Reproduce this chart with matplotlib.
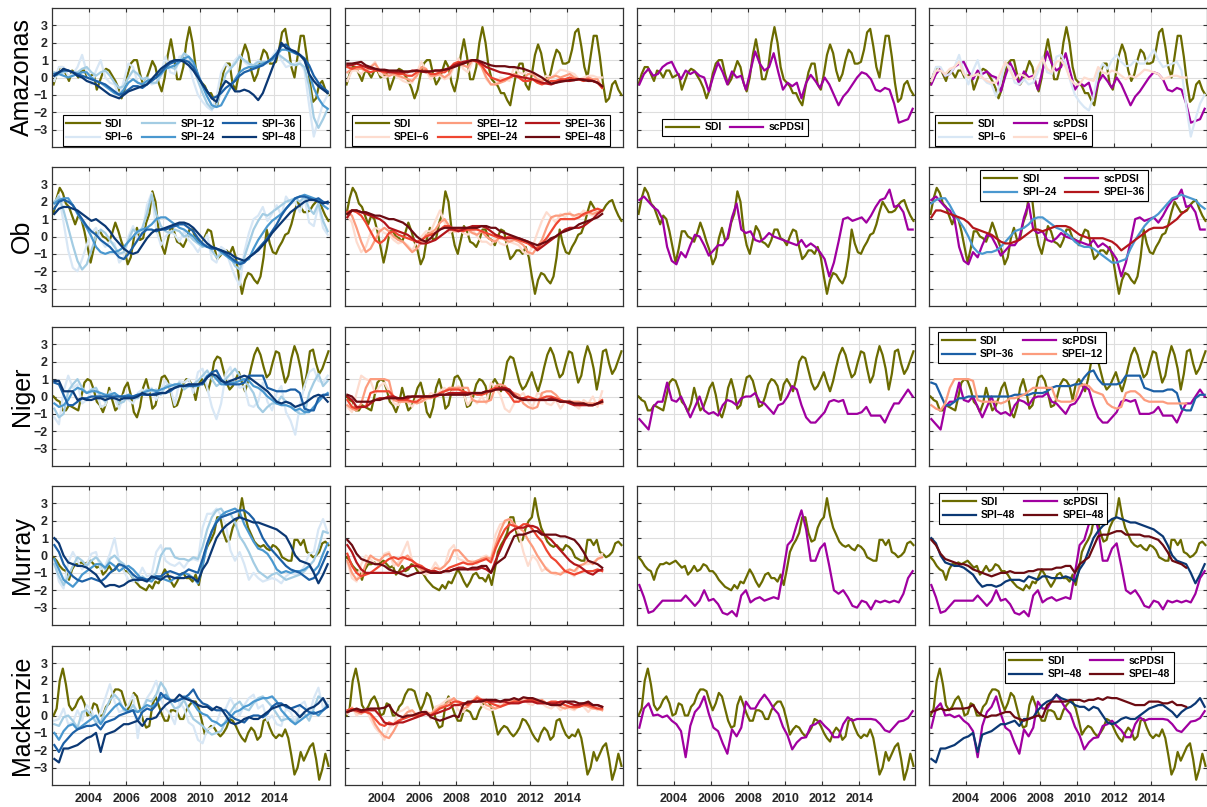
import matplotlib.pyplot as plt
import numpy as np

plt.rcParams['font.family'] = ['Liberation Sans', 'DejaVu Sans']

# sampling: SDI every 2 months, the other indices quarterly (SPEI stops end of 2015)
t_sdi = 2002 + 1 / 12 + np.arange(90) / 6
t_q = 2002 + 0.125 + np.arange(60) / 4

basins = ['Amazonas', 'Ob', 'Niger', 'Murray', 'Mackenzie']
spi_names = ['SPI\u22126', 'SPI\u221212', 'SPI\u221224', 'SPI\u221236', 'SPI\u221248']
spei_names = ['SPEI\u22126', 'SPEI\u221212', 'SPEI\u221224', 'SPEI\u221236', 'SPEI\u221248']
xticks = [2004, 2006, 2008, 2010, 2012, 2014]
yticks = [-3, -2, -1, 0, 1, 2, 3]

# ---------------- Amazonas ----------------
AMZ_SDI = [-0.4, 0.2, 0.6, 0.6, 0.2, -0.2,
           0.4, 0.3, 0.0, 0.4, 0.4, 0.0,
           0.1, 0.2, -0.7, -0.2, 0.3, 0.5,
           0.4, 0.1, -0.2, -0.6, -1.2, -0.7,
           0.2, 0.8, 1.0, 1.0, 0.2, -0.4,
           -0.1, 0.4, 0.95, 0.6, -0.3, -0.8,
           0.0, 1.3, 2.2, 1.2, -0.1, -0.1,
           0.6, 2.0, 2.9, 2.0, 0.6, -0.1,
           -0.3, -0.5, -0.9, -0.9, -1.3, -1.6,
           -0.6, 0.3, 0.8, 0.8, -0.4, -0.7,
           0.2, 1.3, 1.9, 1.4, 0.4, -0.2,
           0.2, 1.0, 1.6, 1.4, 0.8, 0.8,
           0.9, 1.6, 2.6, 2.8, 1.8, 0.6,
           0.0, 1.2, 2.4, 2.4, 1.2, -0.3,
           -1.4, -1.2, -0.4, -0.2, -0.7, -1.0]
AMZ_SPI6 = [-0.2, 0.6, 0.6, 0.1, 0.2, 0.6, 1.3, 0.3,
            -0.4, 0.4, 1.0, 0.0, -0.3, -0.4, -1.1, -0.2,
            0.8, 0.6, -0.3, -0.4, -0.1, -0.4, -0.3, 0.3,
            1.2, 0.3, 0.2, 1.2, 1.3, 0.8, -0.2, -1.0,
            -1.4, -1.7, -1.9, -1.1, 0.3, 0.8, 0.5, 1.0,
            1.3, 0.9, 0.65, 0.7, 1.0, 0.8, 0.8, 1.2,
            1.6, 1.0, 0.6, 0.7, 0.8, 0.9, 0.4, -1.6,
            -3.4, -2.4, -1.5, -1.0]
AMZ_SPI12 = [0.3, 0.2, 0.3, 0.4, 0.3, 0.3, 0.5, 0.6,
             0.3, 0.1, 0.3, 0.4, 0.1, -0.3, -0.6, -0.5,
             0.0, 0.4, 0.2, -0.1, 0.0, -0.3, -0.3, 0.1,
             0.7, 0.6, 0.5, 0.9, 1.4, 1.2, 0.6, -0.2,
             -0.9, -1.5, -1.8, -1.6, -0.8, 0.2, 0.5, 0.8,
             1.2, 1.0, 0.8, 0.7, 0.9, 0.9, 0.9, 1.1,
             1.4, 1.2, 1.0, 0.8, 0.7, 0.8, 0.6, -0.5,
             -2.3, -2.9, -2.4, -1.8]
AMZ_SPI24 = [0.1, 0.2, 0.1, 0.0, 0.1, 0.2, 0.3, 0.3,
             0.0, -0.2, -0.3, -0.5, -0.7, -0.9, -1.0, -0.7,
             -0.3, -0.1, -0.3, -0.4, -0.2, -0.1, 0.0, 0.2,
             0.5, 0.6, 0.7, 0.9, 1.1, 1.2, 0.9, 0.2,
             -0.5, -1.1, -1.6, -1.7, -1.6, -1.1, -0.6, -0.1,
             0.3, 0.5, 0.6, 0.6, 0.7, 0.8, 0.9, 1.0,
             1.3, 1.6, 1.6, 1.5, 1.4, 1.3, 1.0, 0.2,
             -0.6, -1.2, -1.6, -1.8]
AMZ_SPI36 = [0.2, 0.3, 0.4, 0.4, 0.3, 0.2, 0.1, 0.0,
             -0.1, -0.2, -0.3, -0.4, -0.6, -0.8, -1.0, -0.9,
             -0.7, -0.5, -0.5, -0.6, -0.4, -0.2, 0.0, 0.3,
             0.6, 0.8, 0.9, 1.0, 1.0, 0.9, 0.6, 0.1,
             -0.4, -0.8, -1.2, -1.1, -0.9, -0.6, -0.4, -0.2,
             0.1, 0.3, 0.4, 0.5, 0.6, 0.7, 0.9, 1.1,
             1.4, 1.8, 1.9, 1.6, 1.4, 1.3, 1.1, 0.7,
             0.1, -0.3, -0.6, -0.8]
AMZ_SPI48 = [0.1, 0.3, 0.5, 0.4, 0.3, 0.1, 0.0, -0.2,
             -0.3, -0.4, -0.6, -0.8, -1.0, -1.1, -1.2, -1.0,
             -0.8, -0.7, -0.6, -0.5, -0.4, -0.1, 0.2, 0.5,
             0.7, 0.9, 1.0, 1.0, 0.9, 0.7, 0.4, 0.0,
             -0.4, -0.8, -1.2, -1.4, -0.6, -0.2, -0.4, -0.8,
             -0.8, -0.7, -0.8, -1.0, -1.3, -0.9, -0.2, 0.5,
             1.2, 2.0, 1.7, 1.6, 1.5, 1.3, 1.0, 0.2,
             -0.2, -0.5, -0.7, -0.9]
AMZ_SPEI6 = [-0.2, 0.4, 0.4, 0.2, 0.5, 0.6, 0.9, 0.2,
             0.0, 0.1, 0.2, 0.0, -0.2, -0.3, -0.3, 0.3,
             0.9, 0.4, -0.1, 0.2, 0.1, -0.1, 0.0, 0.6,
             1.1, 0.5, 0.3, 0.9, 1.0, 0.6, -0.1, -0.4,
             -0.4, 0.0, -0.1, -0.2, 0.6, 0.3, 0.2, 0.4,
             0.3, 0.1, -0.1, 0.1, 0.0, 0.2, 0.45, 0.4,
             0.3, 0.2, -0.1, 0.0, 0.1, 0.1, 0.0, 0.0]
AMZ_SPEI12 = [0.3, 0.5, 0.5, 0.5, 0.4, 0.6, 0.8, 0.4,
              0.2, 0.1, 0.2, 0.1, 0.0, -0.1, -0.2, 0.1,
              0.6, 0.5, 0.1, 0.1, 0.2, 0.0, 0.2, 0.7,
              0.9, 0.7, 0.6, 1.0, 0.9, 0.6, 0.0, -0.4,
              -0.4, -0.3, -0.2, 0.0, 0.2, 0.1, -0.1, 0.2,
              0.2, -0.1, -0.2, -0.1, 0.0, 0.1, 0.0, 0.1,
              0.2, 0.0, -0.1, -0.2, 0.0, -0.1, -0.1, -0.6]
AMZ_SPEI24 = [0.6, 0.5, 0.6, 0.6, 0.4, 0.3, 0.4, 0.4,
              0.3, 0.3, 0.3, 0.2, 0.2, 0.1, 0.1, 0.3,
              0.4, 0.4, 0.2, 0.2, 0.3, 0.3, 0.5, 0.8,
              0.9, 0.8, 0.9, 1.0, 0.9, 0.7, 0.3, 0.0,
              -0.1, -0.2, -0.1, 0.0, 0.1, 0.0, -0.2, -0.2,
              -0.1, -0.3, -0.4, -0.3, -0.2, -0.2, -0.1, -0.1,
              0.0, -0.1, -0.1, -0.2, -0.1, -0.2, -0.3, -0.6]
AMZ_SPEI36 = [0.7, 0.7, 0.8, 0.7, 0.6, 0.5, 0.5, 0.4,
              0.4, 0.3, 0.3, 0.3, 0.3, 0.3, 0.4, 0.4,
              0.35, 0.3, 0.35, 0.4, 0.4, 0.45, 0.55, 0.7,
              0.8, 0.9, 0.95, 1.0, 0.95, 0.8, 0.6, 0.5,
              0.4, 0.3, 0.25, 0.2, 0.1, 0.05, 0.0, -0.05,
              -0.1, -0.2, -0.3, -0.35, -0.4, -0.3, -0.2, -0.2,
              -0.2, -0.15, -0.1, -0.1, -0.15, -0.2, -0.3, -0.5]
AMZ_SPEI48 = [0.8, 0.8, 0.85, 0.9, 0.7, 0.6, 0.5, 0.45,
              0.45, 0.4, 0.4, 0.4, 0.35, 0.35, 0.35, 0.4,
              0.35, 0.35, 0.35, 0.4, 0.4, 0.45, 0.5, 0.6,
              0.7, 0.8, 0.9, 1.0, 1.0, 0.9, 0.8, 0.7,
              0.65, 0.65, 0.65, 0.6, 0.6, 0.55, 0.5, 0.4,
              0.3, 0.15, 0.0, -0.2, -0.35, -0.3, -0.25, -0.2,
              -0.15, -0.15, -0.1, -0.15, -0.2, -0.2, -0.3, -0.5]
AMZ_PDSI = [-0.4, 0.2, 0.5, 0.1, 0.2, 0.6, 0.8, 0.9,
            0.35, -0.1, 0.4, 0.2, 0.35, 0.1, 0.0, -0.8,
            0.1, 0.85, 0.3, -0.4, 0.35, 0.0, 0.1, -0.7,
            0.4, 1.5, 0.8, 0.4, 0.6, 1.4, 0.3, -0.7,
            -0.3, -0.5, -0.3, -1.2, -0.3, 0.15, -0.2, -0.6,
            0.0, -0.4, -1.0, -1.6, -1.1, -0.8, -0.4, 0.0,
            0.3, 0.2, -0.1, -0.7, -0.8, -0.6, -0.7, -1.5,
            -2.6, -2.5, -2.4, -1.8]

# ---------------- Ob ----------------
OB_SDI = [1.3, 2.2, 2.8, 2.5, 1.9, 1.7,
          1.2, 0.7, 1.2, 1.0, 0.3, -0.6,
          -1.5, -0.7, 0.3, 0.3, 0.0, -0.1,
          -0.3, 0.2, 0.8, 0.3, -0.3, -0.8,
          -1.6, -1.2, -0.1, 0.5, -0.2, -0.1,
          0.8, 1.3, 2.6, 2.0, 0.4, -0.5,
          -1.0, -0.2, 0.6, 0.3, -0.3, -0.4,
          -0.6, -0.2, 0.4, 0.4, -0.1, -0.2,
          -0.5, 0.0, 0.4, 0.3, -0.6, -1.3,
          -1.1, -0.8, -0.8, -1.0, -0.6, -1.2,
          -2.3, -3.3, -2.5, -2.1, -2.2, -2.5,
          -2.7, -2.3, -1.2, 0.4, -0.4, -0.9,
          -1.0, -0.6, -0.3, 0.1, 0.2, 0.7,
          1.4, 2.0, 1.7, 1.4, 1.4, 1.5,
          1.8, 2.0, 2.1, 1.6, 1.2, 0.9]
OB_SPI6 = [1.8, 2.4, 0.8, -0.8, -1.8, -2.0, -1.3, -0.5,
           0.2, 0.5, -0.2, -0.6, -0.3, -0.4, -1.5, -1.2,
           0.0, 0.6, -0.2, 0.3, 1.8, 2.5, 0.4, -0.5,
           0.0, 0.3, 0.1, -0.3, 0.3, -0.2, -0.5, -0.9,
           -0.4, 0.1, -1.3, -1.5, -0.6, -0.8, -1.6, -2.3,
           -2.8, -0.9, 0.2, 1.0, 1.2, 1.7, 0.9, 1.3,
           1.8, 1.2, 2.3, 1.9, 2.0, 1.4, 2.2, 0.8,
           0.6, 1.8, 0.5, 0.1]
OB_SPI12 = [2.0, 2.3, 1.5, 0.5, -0.5, -1.4, -1.9, -1.6,
            -0.8, 0.0, 0.4, 0.2, -0.2, -0.6, -1.0, -0.9,
            -0.2, 0.4, 0.2, 0.5, 1.3, 2.4, 1.3, 0.6,
            0.3, 0.2, 0.4, 0.3, 0.0, 0.1, -0.2, -0.4,
            -0.6, -0.5, -0.8, -1.2, -1.0, -0.9, -1.2, -1.7,
            -1.9, -1.2, -0.4, 0.4, 0.9, 1.3, 1.2, 1.4,
            1.6, 1.8, 2.0, 2.1, 2.2, 2.0, 2.3, 1.6,
            1.3, 1.9, 0.9, 0.3]
OB_SPI24 = [1.9, 2.1, 2.2, 2.2, 1.8, 1.3, 0.9, 0.5,
            0.0, -0.6, -0.9, -1.0, -0.9, -0.9, -0.8, -0.6,
            -0.3, 0.0, 0.3, 0.4, 0.5, 0.7, 1.0, 1.1,
            1.1, 0.9, 0.7, 0.5, 0.4, 0.2, 0.0, -0.3,
            -0.5, -0.6, -0.6, -0.7, -0.9, -1.1, -1.3, -1.5,
            -1.5, -1.4, -1.3, -0.7, -0.2, 0.2, 0.6, 0.9,
            1.1, 1.3, 1.6, 1.9, 2.2, 2.3, 2.4, 2.3,
            2.2, 2.1, 1.8, 1.6]
OB_SPI36 = [1.6, 2.0, 2.1, 2.0, 1.8, 1.4, 1.0, 0.6,
            0.3, 0.1, -0.2, -0.4, -0.6, -0.9, -1.2, -1.3,
            -1.0, -0.6, -0.2, 0.2, 0.4, 0.4, 0.3, 0.4,
            0.4, 0.5, 0.6, 0.7, 0.7, 0.5, 0.3, -0.1,
            -0.4, -0.6, -0.7, -0.7, -0.8, -1.0, -1.2, -1.4,
            -1.6, -1.5, -1.2, -1.0, -0.7, -0.4, -0.1, 0.3,
            0.7, 1.2, 1.6, 1.9, 2.2, 2.3, 2.3, 2.2,
            2.1, 2.2, 2.0, 1.9]
OB_SPI48 = [1.3, 1.6, 1.7, 1.7, 1.6, 1.5, 1.3, 1.1,
            0.9, 1.0, 0.8, 0.6, 0.3, -0.1, -0.4, -0.7,
            -0.9, -1.0, -0.9, -0.5, -0.1, 0.2, 0.4, 0.4,
            0.5, 0.6, 0.7, 0.8, 0.8, 0.7, 0.5, 0.2,
            -0.1, -0.4, -0.6, -0.7, -0.8, -0.9, -1.0, -1.2,
            -1.3, -1.4, -1.2, -1.0, -0.8, -0.5, -0.2, 0.2,
            0.5, 0.8, 1.1, 1.4, 1.6, 1.8, 2.0, 2.1,
            2.1, 2.0, 1.9, 2.0]
OB_SPEI6 = [1.2, 0.8, -0.3, -0.9, -0.6, 0.2, 0.5, 0.4,
            0.2, 0.1, -0.2, -0.4, -0.3, -0.5, -0.8, -0.3,
            0.0, 0.3, 0.3, 0.9, 1.5, 0.8, 0.2, 0.4,
            0.5, 0.2, 0.1, 0.4, 0.0, -0.3, -0.3, -0.5,
            -0.1, -0.4, -0.5, -0.3, -0.4, -0.5, -0.9, -1.0,
            -0.6, 0.2, 0.9, 1.4, 1.1, 0.8, 1.3, 1.1,
            1.4, 1.0, 1.2, 1.5, 1.3, 1.2, 1.6, 1.4]
OB_SPEI12 = [1.4, 1.2, 0.5, -0.3, -0.9, -0.7, -0.2, 0.3,
             0.5, 0.3, 0.0, -0.2, -0.3, -0.6, -0.9, -0.7,
             -0.3, 0.1, 0.2, 0.4, 0.8, 1.0, 0.6, 0.3,
             0.3, 0.5, 0.4, 0.2, 0.1, 0.3, 0.0, -0.2,
             -0.3, 0.0, -0.2, -0.3, -0.2, -0.3, -0.5, -0.9,
             -1.0, -0.6, -0.2, 0.5, 1.1, 1.2, 1.2, 1.3,
             1.3, 1.2, 1.3, 1.2, 1.4, 1.3, 1.4, 1.5]
OB_SPEI24 = [1.4, 1.5, 1.4, 1.2, 0.8, 0.3, -0.2, -0.4,
             -0.2, 0.2, 0.3, 0.1, 0.0, -0.1, -0.2, -0.3,
             -0.2, 0.0, 0.1, 0.2, 0.4, 0.6, 0.6, 0.4,
             0.4, 0.3, 0.4, 0.4, 0.4, 0.3, 0.2, 0.1,
             0.0, -0.1, -0.1, 0.0, -0.1, -0.2, -0.3, -0.4,
             -0.6, -0.7, -0.4, -0.1, 0.3, 0.7, 1.0, 1.0,
             1.0, 1.0, 1.1, 1.3, 1.4, 1.5, 1.6, 1.5]
OB_SPEI36 = [1.1, 1.5, 1.5, 1.4, 1.3, 1.2, 1.1, 1.0,
             0.8, 0.5, 0.4, 0.3, 0.2, 0.1, -0.1, -0.3,
             -0.4, -0.4, -0.3, -0.2, 0.0, 0.2, 0.4, 0.4,
             0.3, 0.4, 0.5, 0.6, 0.6, 0.6, 0.5, 0.3,
             0.1, 0.0, -0.1, -0.1, -0.1, -0.1, -0.2, -0.3,
             -0.5, -0.8, -0.6, -0.4, -0.2, 0.0, 0.2, 0.4,
             0.5, 0.5, 0.5, 0.6, 0.8, 1.0, 1.3, 1.5]
OB_SPEI48 = [1.3, 1.5, 1.5, 1.4, 1.4, 1.3, 1.2, 1.2,
             1.1, 1.0, 1.0, 0.9, 0.8, 0.6, 0.3, 0.0,
             -0.2, -0.3, -0.1, 0.2, 0.4, 0.5, 0.5, 0.5,
             0.5, 0.5, 0.5, 0.5, 0.5, 0.6, 0.6, 0.5,
             0.5, 0.3, 0.2, 0.1, 0.0, -0.1, -0.2, -0.3,
             -0.4, -0.5, -0.4, -0.3, -0.1, 0.0, 0.2, 0.3,
             0.4, 0.5, 0.7, 0.8, 0.9, 1.0, 1.1, 1.3]
OB_PDSI = [2.1, 2.3, 2.0, 1.7, 1.5, 1.0, -0.6, -1.4,
           -1.6, -0.9, -1.2, -0.5, 0.1, 0.0, -0.5, -1.1,
           -0.8, -0.5, -0.5, -0.1, 1.1, 1.9, 0.4, 0.2,
           0.3, -0.2, -0.3, -0.1, 0.2, 0.0, -0.1, -0.2,
           -0.3, -0.4, -0.5, -0.2, -0.6, -0.4, -0.6, -0.9,
           -1.3, -2.3, -1.5, -0.3, 1.0, 1.1, 0.9, 1.0,
           1.1, 0.8, 1.2, 1.7, 2.1, 2.2, 2.7, 1.7,
           1.8, 1.4, 0.4, 0.4]

# ---------------- Niger ----------------
NIG_SDI = [0.0, -0.2, -0.3, -0.8, -0.8, -0.5,
           -0.6, -0.7, -0.8, 0.0, 0.8, 1.0,
           0.9, 0.4, -0.3, -0.5, -0.9, -0.4,
           0.5, -0.2, -0.8, -0.6, -0.1, 0.5,
           0.8, 0.1, -0.9, -1.2, -0.6, 0.5,
           1.0, 0.3, -0.7, -0.5, 0.3, 1.1,
           1.2, 0.9, 0.2, -0.6, -0.5, 0.0,
           0.7, 1.0, 0.9, 0.6, -0.2, 0.7,
           1.0, 0.7, 0.3, 1.0, 2.0, 2.3,
           2.2, 1.5, 0.8, 0.4, 0.6, 1.0,
           1.4, 0.8, 0.3, 0.9, 1.7, 2.4,
           2.8, 2.4, 1.7, 1.1, 1.3, 2.0,
           2.6, 2.5, 1.6, 0.8, 1.2, 2.2,
           2.9, 2.4, 1.6, 0.4, 1.3, 2.6,
           2.7, 1.9, 1.3, 1.6, 2.1, 2.6]
NIG_SPI6 = [-1.2, -1.6, 0.3, 1.2, 0.5, 0.7, -0.4, -0.2,
            0.3, 0.5, -0.6, -0.5, 0.3, -0.1, -0.7, 0.1,
            -0.2, -0.4, 0.2, 0.4, 0.1, 0.5, -0.2, 0.4,
            0.9, 0.5, -0.5, 0.9, 0.8, 1.0, 0.2, 1.4,
            1.6, 0.5, -0.6, -1.3, -0.4, 1.3, 1.7, 0.8,
            0.5, 0.6, -0.5, -0.6, -0.3, 0.8, -0.3, -0.8,
            0.2, 0.6, -0.9, -1.4, -2.2, -0.5, 0.6, 1.4,
            1.6, 0.9, 0.8, 1.2]
NIG_SPI12 = [-0.7, -1.2, -1.0, 0.3, 0.7, 1.0, 0.5, 0.2,
             0.4, 0.5, 0.0, -0.3, 0.1, 0.2, -0.4, -0.3,
             0.1, -0.1, -0.1, 0.2, 0.4, 0.3, 0.4, 0.1,
             0.6, 0.7, 0.6, 0.8, 0.4, 0.6, 0.7, 0.9,
             1.2, 1.5, 1.0, 0.6, 0.8, 1.0, 1.3, 1.6,
             1.2, 0.9, 0.6, 0.2, -0.6, -0.9, -0.6, -0.4,
             -0.4, 0.0, -0.3, -0.4, -0.8, -1.0, -1.0, 0.2,
             0.8, 1.3, 0.6, 0.9]
NIG_SPI24 = [-0.4, -0.6, -0.5, -0.2, 0.3, 0.5, 0.4, 0.2,
             0.3, 0.3, 0.2, 0.1, 0.1, 0.2, 0.0, 0.0,
             0.1, 0.0, 0.1, 0.2, 0.3, 0.4, 0.3, 0.4,
             0.5, 0.6, 0.7, 0.7, 0.6, 0.7, 0.6, 0.6,
             0.8, 1.2, 1.3, 1.0, 0.7, 0.7, 0.8, 0.8,
             0.9, 1.0, 0.9, 0.6, 0.5, 0.3, 0.0, -0.2,
             -0.4, -0.5, -0.5, -0.6, -0.8, -0.7, -0.9, -0.9,
             -0.6, -0.3, 0.0, 0.2]
NIG_SPI36 = [0.8, 0.7, 0.1, -0.5, -0.5, -0.3, -0.1, -0.1,
             0.0, 0.0, 0.0, 0.0, 0.0, 0.0, 0.0, 0.0,
             0.0, 0.0, 0.1, 0.1, 0.1, 0.1, 0.2, 0.2,
             0.2, 0.3, 0.5, 0.6, 0.6, 0.6, 0.6, 0.7,
             0.7, 1.1, 1.4, 1.5, 1.0, 0.7, 0.7, 0.7,
             0.7, 0.8, 1.2, 1.2, 1.2, 1.2, 0.5, 0.4,
             0.3, 0.3, 0.3, 0.4, 0.4, 0.2, -0.7, -0.8,
             -0.8, -0.1, 0.1, 0.1]
NIG_SPI48 = [0.9, 0.9, 0.3, 0.3, 0.3, -0.2, -0.1, -0.2,
             -0.2, -0.1, -0.1, -0.2, -0.1, -0.1, -0.2, -0.1,
             -0.1, -0.1, 0.0, 0.2, 0.1, 0.1, 0.1, 0.2,
             0.2, 0.4, 0.5, 0.6, 0.6, 0.7, 0.7, 0.7,
             0.8, 1.1, 1.3, 1.2, 0.9, 0.8, 0.9, 1.0,
             1.1, 1.2, 1.1, 0.9, 0.7, 0.5, 0.3, 0.0,
             -0.3, -0.4, -0.3, -0.4, -0.6, -0.5, -0.4, -0.2,
             0.0, 0.1, 0.0, -0.3]
NIG_SPEI6 = [-0.6, -0.9, 0.2, 1.2, 1.0, 0.9, 0.2, 0.6,
             0.8, 0.3, -0.4, -0.5, -0.1, -0.3, -0.6, -0.1,
             -0.3, -0.2, 0.2, 0.1, 0.3, 0.5, 0.1, 0.4,
             0.6, 0.2, -0.5, -0.1, -0.4, 0.0, -0.4, 0.8,
             0.5, 0.1, -0.7, -0.9, -0.4, 0.0, 0.2, -0.3,
             -0.6, 0.2, 0.1, -0.4, -0.5, -0.2, -0.7, -0.3,
             -0.2, -0.5, -0.7, -0.2, -0.4, 0.0, -0.6, 0.3]
NIG_SPEI12 = [-0.5, -0.7, -0.8, -0.4, 0.5, 1.0, 1.0, 1.0,
              1.0, 0.9, -0.2, -0.3, -0.3, -0.3, -0.3, -0.4,
              -0.3, -0.1, -0.1, 0.0, 0.1, 0.3, 0.5, 0.5,
              0.5, 0.5, 0.5, -0.2, -0.3, -0.3, -0.3, -0.2,
              0.6, 0.7, 0.6, 0.3, 0.2, 0.1, -0.4, -0.6,
              -0.7, -0.6, 0.2, 0.3, 0.3, 0.1, -0.2, -0.3,
              -0.3, -0.3, -0.3, -0.4, -0.4, -0.4, -0.4, -0.4]
NIG_SPEI24 = [-0.2, -0.6, -0.7, -0.6, -0.6, 0.2, 0.3, 0.3,
              0.3, 0.3, 0.0, -0.2, -0.2, -0.2, -0.3, -0.3,
              -0.1, 0.0, 0.0, 0.0, 0.2, 0.3, 0.4, 0.4,
              0.4, 0.3, 0.2, 0.2, 0.1, 0.1, 0.2, 0.4,
              0.5, 0.5, 0.4, 0.1, -0.3, -0.3, -0.1, 0.0,
              -0.1, -0.2, -0.1, 0.0, 0.0, -0.1, -0.2, -0.3,
              -0.3, -0.4, -0.5, -0.4, -0.5, -0.5, -0.4, -0.2]
NIG_SPEI36 = [0.0, -0.2, -0.6, -0.6, -0.6, -0.4, -0.2, -0.1,
              -0.1, 0.0, 0.0, -0.1, -0.1, -0.1, 0.0, 0.0,
              0.0, 0.0, 0.0, 0.0, 0.1, 0.1, 0.2, 0.2,
              0.2, 0.2, 0.2, 0.2, 0.2, 0.2, 0.3, 0.3,
              0.4, 0.5, 0.5, 0.4, 0.1, -0.1, -0.1, -0.2,
              -0.2, -0.2, -0.2, -0.2, -0.1, -0.2, -0.3, -0.3,
              -0.4, -0.5, -0.5, -0.5, -0.5, -0.5, -0.4, -0.3]
NIG_SPEI48 = [0.1, 0.0, -0.3, -0.3, -0.3, -0.3, -0.2, -0.2,
              -0.1, -0.1, -0.1, -0.1, -0.1, 0.0, 0.0, 0.0,
              0.0, 0.0, 0.0, 0.1, 0.1, 0.1, 0.1, 0.1,
              0.1, 0.1, 0.1, 0.2, 0.2, 0.2, 0.3, 0.3,
              0.4, 0.4, 0.4, 0.3, 0.0, -0.1, -0.2, -0.2,
              -0.2, -0.2, -0.2, -0.2, -0.2, -0.2, -0.3, -0.3,
              -0.3, -0.4, -0.4, -0.4, -0.5, -0.5, -0.4, -0.3]
NIG_PDSI = [-1.3, -1.6, -1.9, -0.6, -0.3, -0.3, 0.8, -0.2,
            -0.3, 0.0, -0.6, -1.2, -0.6, 0.0, -0.8, -1.0,
            -0.9, -1.1, -0.5, -0.2, -0.3, -0.5, -0.1, 0.0,
            0.0, 0.2, -0.3, -0.4, -0.7, -1.0, -0.5, -0.4,
            0.0, 0.6, 0.4, -0.5, -1.2, -1.5, -1.5, -1.2,
            -0.9, -0.3, -0.2, -0.3, -0.2, -1.0, -1.0, -1.0,
            -0.9, -0.6, -1.1, -1.1, -1.1, -1.5, -0.9, -0.4,
            -0.4, 0.0, 0.4, 0.0]

# ---------------- Murray ----------------
MUR_SDI = [-0.1, -0.3, -0.6, -0.8, -0.9, -1.4,
           -0.8, -0.5, -0.5, -0.4, -0.5, -0.4,
           -0.3, -0.5, -0.7, -0.6, -1.1, -0.9,
           -0.6, -0.9, -0.8, -0.5, -0.6, -0.9,
           -0.9, -1.1, -1.4, -1.6, -1.8, -1.9,
           -2.0, -1.7, -1.9, -1.5, -1.6, -1.2,
           -0.8, -1.1, -1.5, -1.8, -1.5, -1.1,
           -1.0, -1.3, -1.3, -1.5, -1.1, -1.7,
           -0.8, 0.2, 0.6, 0.9, 1.3, 2.2,
           2.2, 1.3, 0.8, 0.9, 1.6, 2.0,
           2.2, 3.3, 2.3, 1.6, 1.2, 0.8,
           0.6, 0.5, 0.6, 0.4, 0.3, 0.6,
           0.5, 0.3, -0.1, -0.2, -0.3, -0.3,
           0.9, 0.9, 0.6, 0.9, 0.2, 0.1,
           -0.1, 0.0, 0.2, 0.7, 0.8, 0.6]
MUR_SPI6 = [-0.3, -1.5, -1.9, -0.4, 0.2, -0.3, -0.8, -0.5,
            0.1, 0.2, -0.8, -0.6, 0.1, 1.0, -0.4, -0.9,
            -1.4, -1.5, -1.3, -0.7, -1.2, -1.1, 0.2, 0.6,
            -0.3, -0.5, -0.6, -0.4, -0.7, -0.3, -0.2, -0.3,
            1.6, 2.4, 2.4, 2.7, 2.3, 1.8, 0.3, -0.3,
            0.2, -0.5, -1.4, -1.0, -1.3, -1.5, -1.4, -1.3,
            -1.4, -1.6, -1.2, -1.0, -1.1, -1.0, -0.6, 0.1,
            0.2, 1.5, 2.1, 1.3]
MUR_SPI12 = [-0.5, -1.2, -1.7, -1.2, -0.6, -0.1, -0.3, -0.6,
             -0.3, -0.1, -0.4, -0.8, -0.2, 0.0, -0.3, -0.5,
             -0.9, -1.3, -1.5, -1.2, -1.4, -1.3, -1.0, 0.0,
             0.4, 0.4, -0.1, -0.2, -0.2, -0.3, -0.1, -0.2,
             0.5, 1.5, 2.2, 2.6, 2.7, 2.3, 2.4, 1.9,
             1.1, 0.7, 0.2, -0.4, -0.9, -1.1, -1.3, -1.1,
             -1.0, -1.2, -1.4, -1.3, -1.2, -1.1, -0.9, -0.6,
             -0.3, 0.4, 1.4, 1.3]
MUR_SPI24 = [-0.2, -0.8, -1.4, -1.6, -1.8, -1.5, -1.1, -0.9,
             -0.7, -0.5, -0.5, -0.7, -0.4, -0.6, -0.9, -0.7,
             -0.6, -0.8, -1.1, -1.4, -1.4, -1.5, -1.2, -1.3,
             -1.4, -1.5, -1.3, -1.2, -1.0, -1.1, -1.3, -1.6,
             -0.6, 0.6, 1.4, 2.0, 2.3, 2.5, 2.6, 2.7,
             2.5, 1.8, 1.3, 0.8, 0.4, 0.3, 0.1, -0.3,
             -0.8, -1.0, -0.9, -1.0, -0.9, -0.9, -0.8, -0.6,
             -0.9, -0.6, 0.1, 0.7]
MUR_SPI36 = [0.6, 0.2, -0.5, -0.9, -1.2, -1.4, -1.5, -1.4,
             -1.3, -1.4, -1.5, -1.3, -1.0, -0.8, -0.5, -0.6,
             -0.8, -1.1, -1.3, -1.3, -1.4, -1.3, -1.2, -1.2,
             -1.0, -0.9, -1.0, -1.1, -1.0, -0.8, -0.9, -1.0,
             -0.2, 0.7, 1.4, 1.9, 2.2, 2.3, 2.4, 2.5,
             2.6, 2.6, 2.4, 2.1, 1.6, 1.0, 0.6, 0.3,
             0.0, -0.3, -0.6, -0.8, -0.9, -1.0, -1.2, -1.4,
             -1.3, -1.0, -0.4, 0.2]
MUR_SPI48 = [1.0, 0.7, 0.0, -0.4, -0.5, -0.6, -0.6, -0.7,
             -0.9, -1.1, -1.5, -1.8, -1.7, -1.7, -1.8, -1.7,
             -1.5, -1.4, -1.4, -1.4, -1.5, -1.2, -1.3, -1.4,
             -1.2, -1.2, -1.3, -1.3, -1.3, -1.2, -1.3, -1.5,
             -0.8, -0.4, 0.3, 1.0, 1.4, 1.7, 1.9, 2.1,
             2.2, 2.1, 2.0, 1.9, 1.9, 1.8, 1.7, 1.6,
             1.5, 1.3, 1.1, 0.6, 0.0, -0.3, -0.4, -0.5,
             -1.0, -1.6, -1.1, -0.5]
MUR_SPEI6 = [-0.4, -1.3, -1.5, -0.5, 0.0, -0.2, -0.5, -0.3,
             0.1, 0.2, -0.6, -0.4, 0.2, 0.8, -0.3, -0.6,
             -1.0, -1.1, -0.9, -0.4, -0.8, -0.6, 0.3, 0.6,
             -0.2, -0.3, -0.4, -0.3, -0.5, -0.1, 0.0, -0.2,
             1.2, 1.8, 1.9, 2.1, 1.8, 1.3, 0.2, -0.6,
             0.0, -0.3, -0.9, -0.7, -1.0, -1.1, -1.0, -0.9,
             -1.0, -1.2, -0.6, -0.5, -0.5, -0.4, -0.2, 0.1]
MUR_SPEI12 = [-0.3, -1.0, -1.4, -1.2, -0.5, 0.0, -0.2, -0.3,
              0.0, 0.1, -0.3, -0.6, -0.2, 0.0, -0.3, -0.6,
              -0.8, -0.9, -1.0, -0.7, -0.8, -0.6, -0.3, 0.3,
              0.3, 0.0, -0.3, -0.4, -0.3, -0.2, -0.1, -0.2,
              0.6, 1.4, 2.0, 2.1, 1.8, 1.6, 1.4, 0.9,
              0.5, 0.0, -0.4, -0.8, -1.0, -1.0, -1.1, -0.9,
              -0.8, -0.9, -0.6, -0.5, -0.3, -0.5, -0.2, -0.1]
MUR_SPEI24 = [0.1, -0.6, -1.0, -1.2, -1.1, -1.0, -0.8, -0.6,
              -0.4, -0.2, -0.1, -0.2, -0.1, -0.2, -0.3, -0.5,
              -0.6, -0.8, -0.9, -1.0, -1.0, -0.9, -0.7, -0.6,
              -0.5, -0.4, -0.5, -0.5, -0.4, -0.3, -0.2, -0.4,
              0.4, 1.0, 1.5, 1.8, 1.7, 1.6, 1.8, 1.8,
              1.5, 1.1, 0.8, 0.3, -0.1, -0.3, -0.6, -0.9,
              -1.0, -1.1, -1.0, -0.9, -0.9, -0.9, -0.8, -0.9]
MUR_SPEI36 = [0.6, 0.2, -0.4, -0.8, -1.0, -1.0, -1.0, -1.0,
              -1.0, -1.0, -1.0, -1.0, -0.9, -0.7, -0.6, -0.6,
              -0.7, -0.8, -0.9, -0.9, -1.0, -0.9, -0.9, -0.8,
              -0.7, -0.7, -0.8, -0.8, -0.8, -0.7, -0.8, -1.0,
              -0.3, 0.3, 0.9, 1.3, 1.5, 1.6, 1.6, 1.7,
              1.7, 1.6, 1.3, 1.1, 0.9, 0.6, 0.3, 0.0,
              -0.3, -0.5, -0.6, -0.8, -1.0, -1.1, -0.9, -0.8]
MUR_SPEI48 = [0.9, 0.6, 0.1, -0.2, -0.3, -0.4, -0.5, -0.5,
              -0.6, -0.8, -0.9, -1.0, -1.1, -1.2, -1.1, -1.0,
              -1.0, -0.9, -1.0, -1.0, -1.0, -0.9, -0.9, -0.8,
              -0.8, -0.8, -0.8, -0.7, -0.7, -0.6, -0.6, -1.0,
              -0.5, -0.3, -0.1, 0.5, 1.1, 1.2, 1.2, 1.3,
              1.4, 1.4, 1.2, 1.2, 1.2, 1.2, 1.1, 1.1,
              1.0, 0.9, 0.6, 0.2, -0.3, -0.4, -0.5, -0.7]
MUR_PDSI = [-1.7, -2.4, -3.3, -3.2, -2.9, -2.6, -2.6, -2.6,
            -2.6, -2.6, -2.3, -2.6, -2.9, -2.6, -2.0, -2.6,
            -2.5, -2.8, -3.3, -3.4, -3.2, -3.5, -2.3, -2.0,
            -2.7, -2.5, -2.4, -2.6, -2.5, -2.4, -2.5, -1.0,
            0.6, 0.9, 1.8, 2.6, 1.5, -0.3, -0.3, 0.4,
            0.7, -0.6, -2.0, -2.2, -2.0, -2.4, -2.9, -3.0,
            -2.6, -2.7, -3.1, -2.6, -2.7, -2.6, -2.7, -2.6,
            -2.7, -2.2, -1.3, -0.9]

# ---------------- Mackenzie ----------------
MAC_SDI = [0.0, 0.4, 2.0, 2.7, 1.8, 0.6,
           0.3, 0.5, 0.9, 1.1, 0.7, 0.0,
           0.1, 0.7, 0.6, 0.0, 0.0, 0.5,
           0.7, 1.2, 1.5, 1.5, 1.4, 0.8,
           0.3, 0.7, 1.3, 1.1, 0.4, -0.3,
           -0.7, -0.6, 0.6, 1.1, 0.6, 0.1,
           -0.3, -0.3, 0.3, 0.3, 0.2, -0.2,
           -0.2, 0.3, 0.6, 0.8, 0.8, 0.4,
           -0.3, -1.1, -0.8, -0.6, -0.7, -1.0,
           -1.2, -1.0, -0.7, -0.2, -0.3, -0.6,
           -1.0, -1.3, -1.5, -1.0, -0.7, -0.9,
           -1.4, -1.2, -0.3, -0.2, -0.7, -1.1,
           -1.3, -1.1, -1.2, -0.8, -1.3, -2.3,
           -3.4, -3.0, -2.1, -2.6, -2.2, -1.8,
           -1.6, -2.5, -3.7, -3.1, -2.2, -2.9]
MAC_SPI6 = [-0.3, -0.2, 0.4, -0.5, -0.4, 0.3, -0.3, 0.6,
            0.3, -0.4, 0.2, 1.0, 1.8, 0.8, 0.2, 0.3,
            0.6, 1.2, -1.3, 0.4, 1.0, 1.4, 2.0, 0.9,
            0.4, 0.1, -0.5, 0.8, 0.4, -0.4, -0.6, -1.4,
            -1.6, -0.8, -0.7, -0.4, 0.3, 0.4, 1.0, 0.5,
            0.0, 0.6, 1.0, 1.2, 0.4, 0.6, -0.3, 0.0,
            -0.5, -0.6, 0.4, 0.2, -0.4, 0.6, 0.8, 0.0,
            1.0, 1.6, 0.4, 0.8]
MAC_SPI12 = [-0.5, -0.6, -0.1, 0.0, -0.3, -0.7, 0.2, 0.3,
             0.0, -0.4, -0.4, 0.3, 0.9, 1.2, 0.9, 0.3,
             0.2, 0.6, 0.2, 0.3, 0.9, 0.8, 1.2, 1.9,
             1.5, 0.8, 0.4, 0.5, 0.9, 0.3, -0.2, -0.4,
             -0.6, -0.9, -1.1, -1.0, -0.9, -0.3, 0.2, 0.6,
             0.8, 0.4, 0.3, 0.7, 1.0, 1.1, 0.8, 0.5,
             0.1, -0.3, -0.2, -0.2, -0.5, 0.0, 0.1, -0.3,
             0.4, 1.1, 0.9, 0.6]
MAC_SPI24 = [-1.0, -1.4, -0.9, -0.6, -0.5, -0.8, -0.6, -0.4,
             -0.2, 0.0, -0.5, -0.1, 0.2, 0.5, 0.7, 0.4,
             0.2, 0.3, 0.2, 0.4, 0.6, 0.5, 0.7, 1.0,
             1.2, 0.9, 0.8, 0.9, 1.1, 1.0, 0.7, 0.3,
             0.1, 0.0, -0.3, -0.4, -0.6, -0.4, -0.1, 0.2,
             0.3, 0.5, 0.6, 0.8, 0.9, 1.0, 1.0, 1.1,
             0.8, 0.3, 0.0, -0.3, -0.5, -0.3, -0.1, 0.1,
             0.2, 0.0, 0.3, 0.6]
MAC_SPI36 = [-1.7, -2.1, -1.6, -1.3, -1.0, -0.8, -0.7, -0.6,
             -0.6, -0.5, -0.8, -0.4, -0.3, -0.2, 0.0, 0.1,
             0.2, 0.3, -0.3, 0.2, 0.4, 0.3, 0.6, 1.3,
             1.0, 0.9, 0.8, 0.9, 1.0, 1.2, 1.5, 1.0,
             0.7, 0.6, 0.4, 0.3, 0.3, 0.3, 0.0, -0.2,
             -0.3, -0.4, -0.1, 0.0, 0.0, -0.1, 0.1, 0.5,
             0.7, 0.7, 0.5, 0.4, 0.5, 0.6, 0.4, 0.2,
             0.1, 0.2, 0.3, 0.5]
MAC_SPI48 = [-2.5, -2.7, -1.9, -1.9, -1.8, -1.7, -1.5, -1.3,
             -1.2, -1.0, -2.1, -1.1, -1.0, -0.9, -0.7, -0.5,
             -0.5, -0.4, -0.3, -0.6, -0.2, -0.2, -0.1, 0.3,
             0.6, 0.8, 0.9, 1.2, 1.0, 0.9, 0.8, 0.6,
             0.5, 0.5, 0.3, 0.5, 0.4, 0.0, -0.4, -0.5,
             -0.4, -0.2, -0.1, -0.2, -0.2, 0.0, 0.2, 0.4,
             0.5, 0.6, 0.6, 0.4, 0.2, -0.1, 0.2, 0.4,
             0.5, 0.7, 1.0, 0.5]
MAC_SPEI6 = [0.1, 0.5, 0.0, 0.2, 0.4, -0.2, -0.7, -1.0,
             -1.4, -0.7, -0.5, 0.2, 0.3, 0.5, 0.0, -0.1,
             0.1, 0.3, -0.2, 0.5, 0.6, 0.8, 1.0, 0.7,
             0.3, 0.2, 0.6, 0.9, 1.1, 0.6, 0.4, 0.3,
             0.4, 0.7, 0.9, 0.8, 1.0, 0.8, 1.0, 0.7,
             0.6, 0.9, 0.7, 0.5, 0.4, 0.6, 0.3, 0.5,
             0.4, 0.3, 0.6, 0.5, 0.2, 0.5, 0.3, 0.4]
MAC_SPEI12 = [0.2, 0.4, 0.2, 0.1, 0.3, 0.1, -0.5, -0.9,
              -1.2, -1.3, -0.9, -0.4, -0.1, 0.2, 0.3, 0.0,
              0.0, 0.2, 0.1, 0.3, 0.5, 0.6, 0.8, 1.0,
              0.7, 0.4, 0.5, 0.8, 1.1, 0.9, 0.6, 0.5,
              0.4, 0.5, 0.7, 0.8, 0.9, 0.9, 1.0, 1.0,
              0.8, 0.8, 0.9, 0.7, 0.6, 0.7, 0.5, 0.4,
              0.5, 0.4, 0.5, 0.6, 0.5, 0.4, 0.4, 0.3]
MAC_SPEI24 = [0.3, 0.4, 0.3, 0.2, 0.2, 0.1, -0.2, -0.5,
              -0.6, -0.4, -0.5, -0.3, -0.2, -0.1, 0.0, 0.0,
              0.1, 0.1, 0.0, 0.2, 0.4, 0.5, 0.6, 0.8,
              0.8, 0.7, 0.6, 0.8, 1.0, 0.9, 0.8, 0.7,
              0.6, 0.5, 0.6, 0.7, 0.8, 0.8, 0.8, 0.9,
              0.9, 0.8, 0.8, 0.7, 0.8, 0.8, 0.7, 0.6,
              0.5, 0.5, 0.5, 0.6, 0.6, 0.5, 0.4, 0.4]
MAC_SPEI36 = [0.2, 0.3, 0.3, 0.2, 0.3, 0.3, 0.3, 0.0,
              -0.4, -0.5, -0.5, -0.4, -0.4, -0.3, -0.2, -0.1,
              0.0, 0.1, 0.0, 0.1, 0.2, 0.3, 0.4, 0.6,
              0.6, 0.7, 0.7, 0.8, 0.8, 0.9, 0.9, 0.8,
              0.8, 0.8, 0.8, 0.7, 0.7, 0.7, 0.8, 0.8,
              0.8, 0.7, 0.7, 0.7, 0.7, 0.7, 0.8, 0.8,
              0.7, 0.6, 0.6, 0.7, 0.7, 0.6, 0.6, 0.5]
MAC_SPEI48 = [0.2, 0.3, 0.4, 0.3, 0.35, 0.4, 0.4, 0.4,
              0.45, 0.6, 0.2, 0.0, -0.1, 0.0, 0.0, 0.1,
              0.2, 0.2, -0.1, -0.2, -0.3, -0.2, -0.1, 0.0,
              -0.1, 0.6, 0.8, 0.8, 0.8, 0.8, 0.9, 0.9,
              0.9, 0.8, 0.9, 0.9, 1.0, 0.9, 1.05, 1.0,
              1.0, 0.9, 0.8, 0.7, 0.6, 0.6, 0.6, 0.8,
              0.8, 0.8, 0.7, 0.7, 0.8, 0.6, 0.6, 0.5]
MAC_PDSI = [-0.7, 0.4, 0.7, 0.0, 0.05, -0.1, 0.0, -0.3,
            -0.5, -0.9, -2.4, -0.6, 0.2, 0.5, 1.1, 0.1,
            -0.7, -0.9, -1.6, -2.2, -0.8, -1.2, -0.7, 0.8,
            0.4, 0.4, 0.85, 1.2, 0.85, 0.4, 0.1, -0.65,
            -1.15, -1.95, -1.55, -1.3, -1.25, -0.6, -0.5, -0.3,
            -0.6, -0.85, -1.25, -1.25, -0.5, -0.1, -0.3, -0.2,
            -0.2, -0.2, -0.2, -0.25, -0.5, -0.85, -0.95, -0.65,
            -0.35, -0.3, -0.15, 0.25]

sdi = {'Amazonas': AMZ_SDI, 'Ob': OB_SDI, 'Niger': NIG_SDI,
       'Murray': MUR_SDI, 'Mackenzie': MAC_SDI}
spi = {'Amazonas': [AMZ_SPI6, AMZ_SPI12, AMZ_SPI24, AMZ_SPI36, AMZ_SPI48],
       'Ob': [OB_SPI6, OB_SPI12, OB_SPI24, OB_SPI36, OB_SPI48],
       'Niger': [NIG_SPI6, NIG_SPI12, NIG_SPI24, NIG_SPI36, NIG_SPI48],
       'Murray': [MUR_SPI6, MUR_SPI12, MUR_SPI24, MUR_SPI36, MUR_SPI48],
       'Mackenzie': [MAC_SPI6, MAC_SPI12, MAC_SPI24, MAC_SPI36, MAC_SPI48]}
spei = {'Amazonas': [AMZ_SPEI6, AMZ_SPEI12, AMZ_SPEI24, AMZ_SPEI36, AMZ_SPEI48],
        'Ob': [OB_SPEI6, OB_SPEI12, OB_SPEI24, OB_SPEI36, OB_SPEI48],
        'Niger': [NIG_SPEI6, NIG_SPEI12, NIG_SPEI24, NIG_SPEI36, NIG_SPEI48],
        'Murray': [MUR_SPEI6, MUR_SPEI12, MUR_SPEI24, MUR_SPEI36, MUR_SPEI48],
        'Mackenzie': [MAC_SPEI6, MAC_SPEI12, MAC_SPEI24, MAC_SPEI36, MAC_SPEI48]}
pdsi = {'Amazonas': AMZ_PDSI, 'Ob': OB_PDSI, 'Niger': NIG_PDSI,
        'Murray': MUR_PDSI, 'Mackenzie': MAC_PDSI}
# which SPI / SPEI scale goes into the comparison column
best = {'Amazonas': (0, 0), 'Ob': (2, 3), 'Niger': (3, 1),
        'Murray': (4, 4), 'Mackenzie': (4, 4)}

c_sdi = '#6b6b00'
c_pdsi = '#a000a0'
c_spi = ['#d8e7f5', '#a3cce3', '#4a98cf', '#1c60a6', '#0b3874']
c_spei = ['#fddccf', '#fc9c7e', '#ef4631', '#b3161b', '#6c0b12']
lw = 1.6

W, H = 1207, 807
lefts = [52, 345, 637, 929]
tops = [8, 167, 327, 486, 646]
pw, ph = 278, 139

fig = plt.figure(figsize=(W / 100, H / 100), dpi=100)


def line(ax, t, v, color):
    return ax.plot(t[:len(v)], v, color=color, lw=lw)[0]


def style(ax, r, c):
    ax.set_xlim(2002, 2017)
    ax.set_ylim(-4, 4)
    ax.set_xticks(xticks)
    ax.set_yticks(yticks)
    ax.grid(True, color='#dedede', lw=0.8)
    ax.set_axisbelow(True)
    ax.tick_params(direction='in', length=3, top=True, right=True,
                   color='#333333', labelcolor='#262626', labelsize=9)
    ax.tick_params(axis='x', pad=6)
    ax.tick_params(axis='y', pad=3)
    for s in ax.spines.values():
        s.set_color('#333333')
        s.set_linewidth(0.9)
    if c > 0:
        ax.set_yticklabels([])
    if r < 4:
        ax.set_xticklabels([])
    for lab in ax.get_xticklabels() + ax.get_yticklabels():
        lab.set_fontweight('bold')


def legend(ax, handles, labels, ncol, loc, anchor):
    leg = ax.legend(handles, labels, ncol=ncol, loc=loc, bbox_to_anchor=anchor,
                    prop={'weight': 'bold', 'size': 7.5}, handlelength=3.2,
                    handletextpad=0.5, columnspacing=0.8, borderaxespad=0,
                    fancybox=False, framealpha=1, edgecolor='black',
                    labelspacing=0.35, borderpad=0.35)
    leg.get_frame().set_linewidth(0.8)


# legend positions in the last column
last_leg = {'Amazonas': ('lower left', (0.022, 0.007)),
            'Ob': ('upper left', (0.184, 0.978)),
            'Niger': ('upper left', (0.032, 0.964)),
            'Murray': ('upper left', (0.036, 0.95)),
            'Mackenzie': ('upper left', (0.274, 0.957))}

for r, name in enumerate(basins):
    axs = [fig.add_axes([lefts[c] / W, 1 - (tops[r] + ph) / H, pw / W, ph / H])
           for c in range(4)]
    for c, ax in enumerate(axs):
        style(ax, r, c)

    # SDI vs SPI
    ax = axs[0]
    hs = [line(ax, t_sdi, sdi[name], c_sdi)]
    for k in range(5):
        hs.append(line(ax, t_q, spi[name][k], c_spi[k]))
    if r == 0:
        legend(ax, hs, ['SDI'] + spi_names, 3, 'lower left', (0.039, 0.007))

    # SDI vs SPEI
    ax = axs[1]
    hs = [line(ax, t_sdi, sdi[name], c_sdi)]
    for k in range(5):
        hs.append(line(ax, t_q, spei[name][k], c_spei[k]))
    if r == 0:
        legend(ax, hs, ['SDI'] + spei_names, 3, 'lower left', (0.025, 0.007))

    # SDI vs scPDSI
    ax = axs[2]
    h1 = line(ax, t_sdi, sdi[name], c_sdi)
    h2 = line(ax, t_q, pdsi[name], c_pdsi)
    if r == 0:
        legend(ax, [h1, h2], ['SDI', 'scPDSI'], 2, 'lower left', (0.09, 0.08))

    # SDI vs scPDSI vs best SPI / SPEI
    ax = axs[3]
    i, j = best[name]
    h1 = line(ax, t_sdi, sdi[name], c_sdi)
    h2 = line(ax, t_q, pdsi[name], c_pdsi)
    h3 = line(ax, t_q, spi[name][i], c_spi[i])
    h4 = line(ax, t_q, spei[name][j], c_spei[j])
    loc, anchor = last_leg[name]
    legend(ax, [h1, h3, h2, h4], ['SDI', spi_names[i], 'scPDSI', spei_names[j]],
           2, loc, anchor)

    fig.text(22 / W, 1 - (tops[r] + ph / 2) / H, name, rotation=90,
             fontsize=18, ha='center', va='center')

fig.savefig('out.png', dpi=100)
